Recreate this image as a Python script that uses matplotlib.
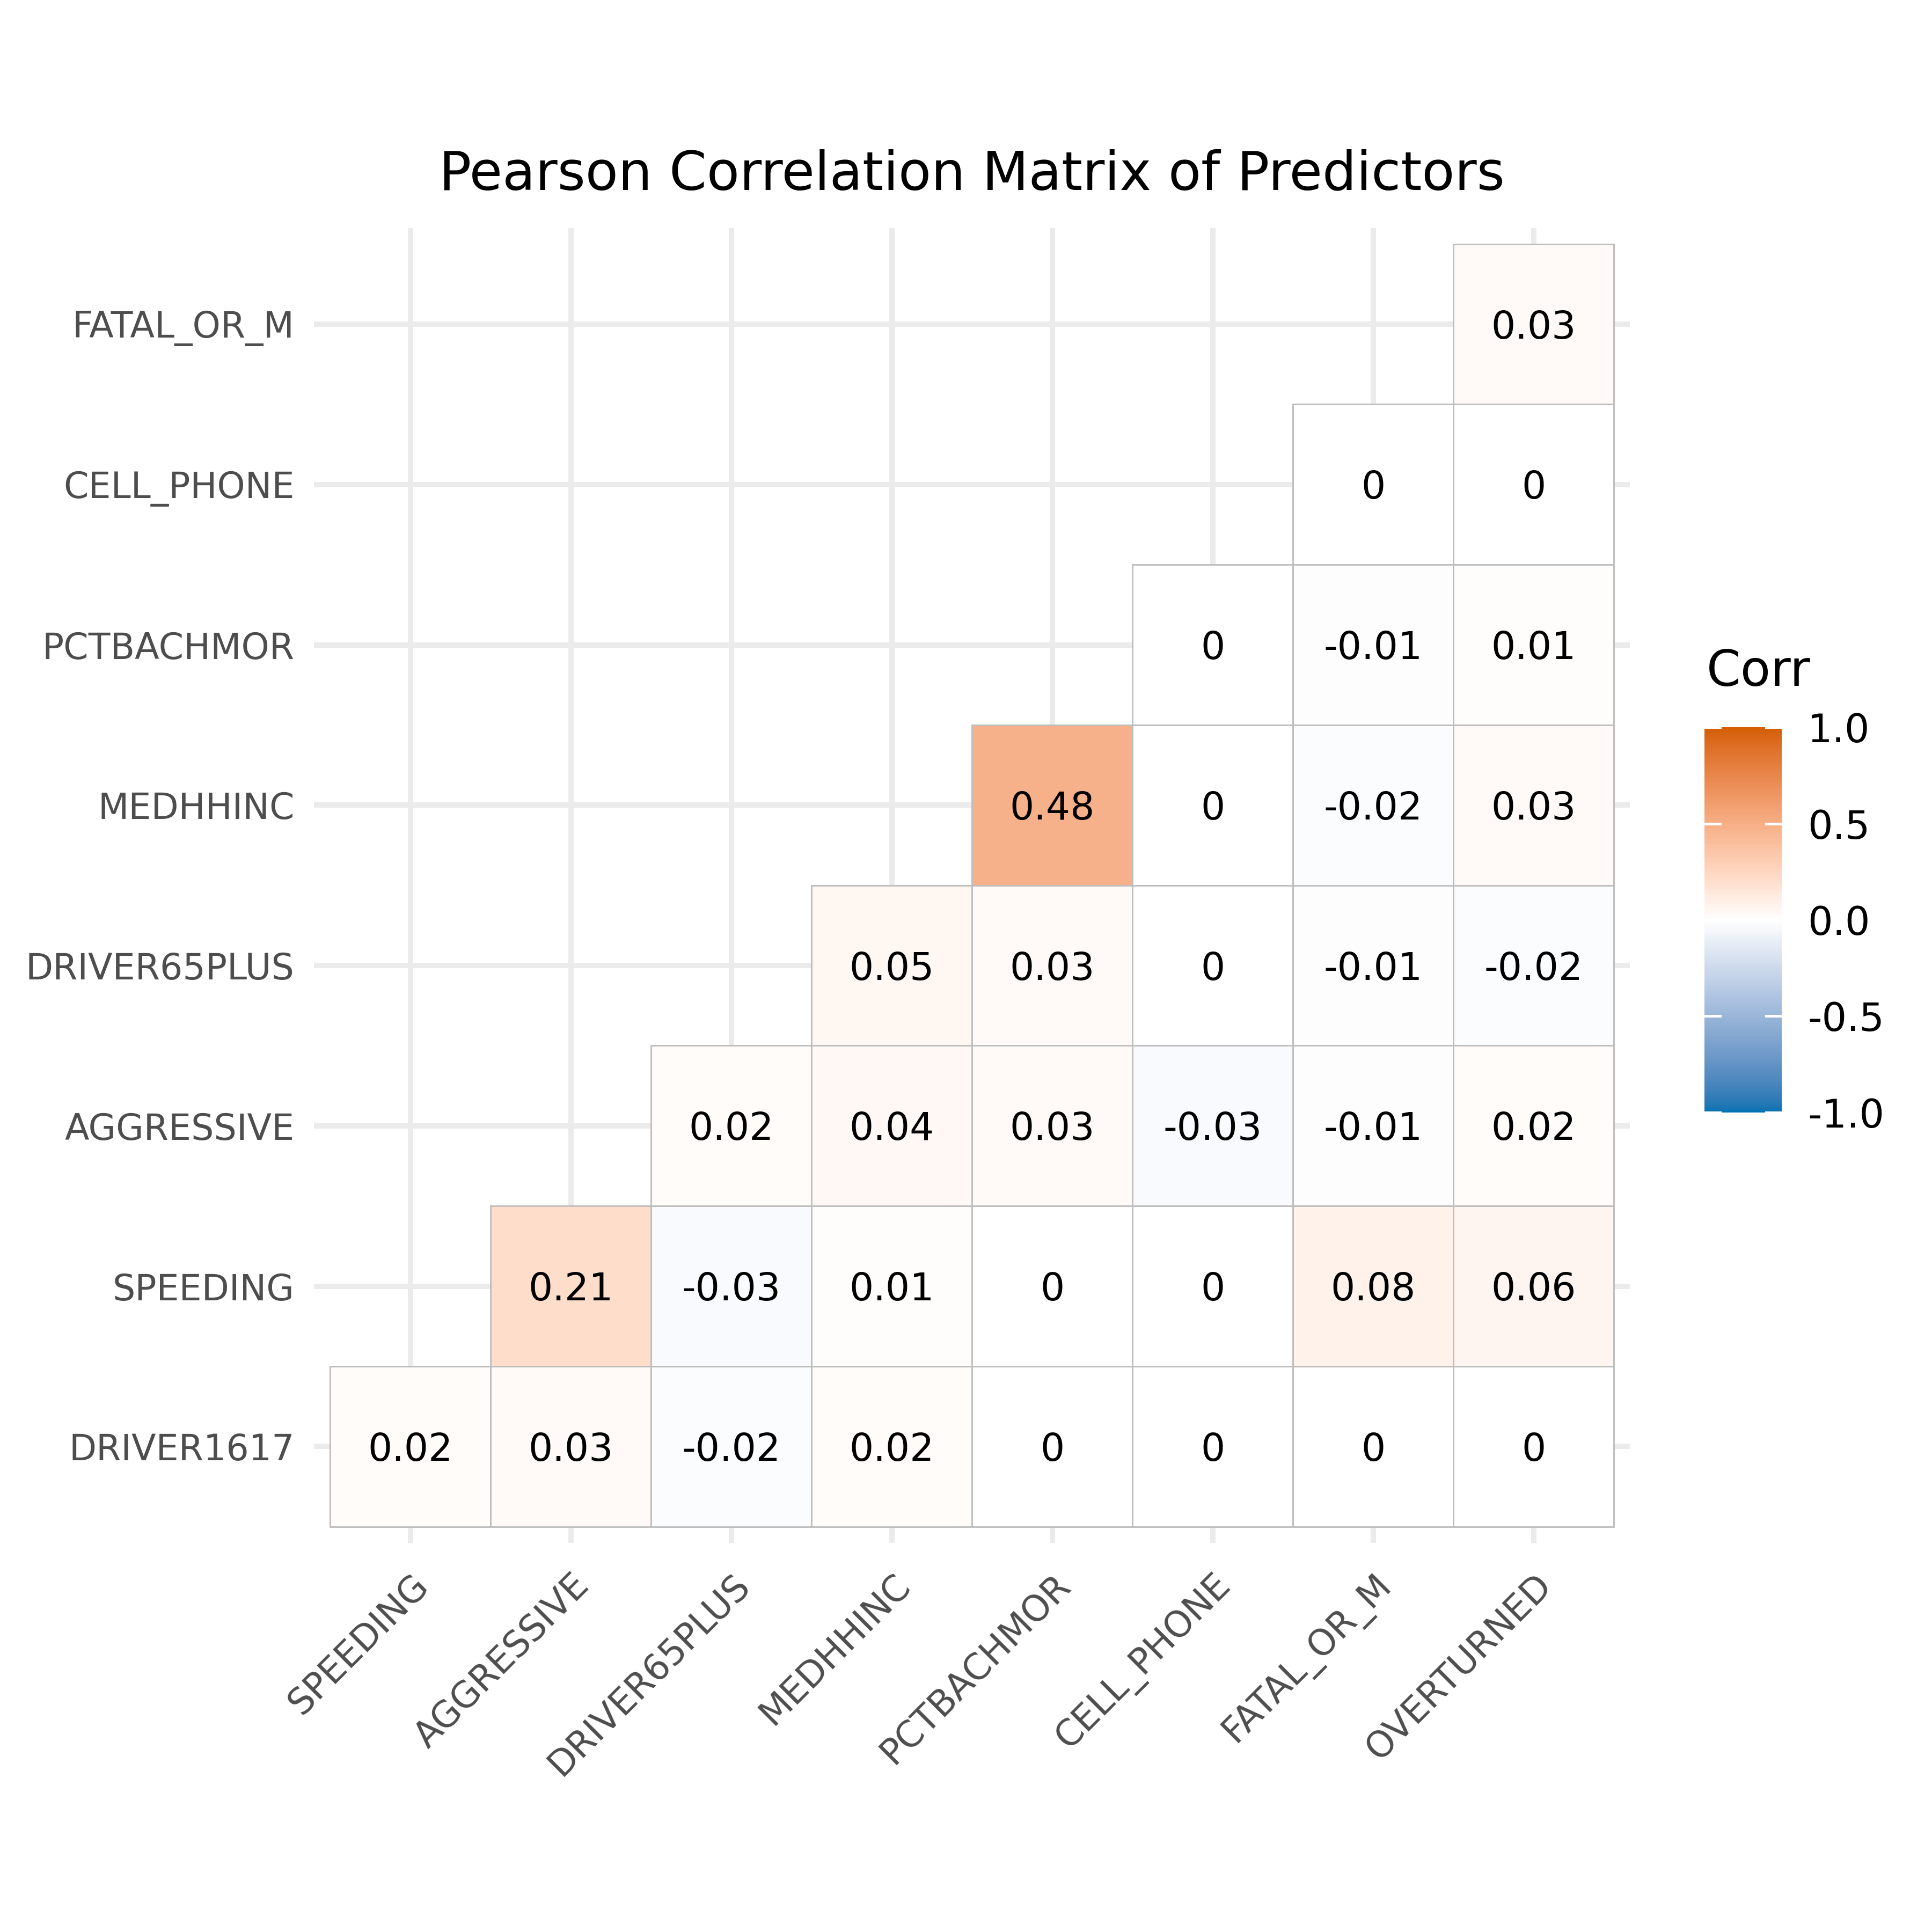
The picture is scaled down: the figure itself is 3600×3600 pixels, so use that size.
import numpy as np
import matplotlib
matplotlib.use("Agg")
import matplotlib.pyplot as plt
import matplotlib.colors as mcolors
import matplotlib.transforms as mtransforms

# --- data (lower triangle of the correlation matrix, None = not shown) ---
x_labels = ["SPEEDING", "AGGRESSIVE", "DRIVER65PLUS", "MEDHHINC",
            "PCTBACHMOR", "CELL_PHONE", "FATAL_OR_M", "OVERTURNED"]
y_labels = ["DRIVER1617", "SPEEDING", "AGGRESSIVE", "DRIVER65PLUS",
            "MEDHHINC", "PCTBACHMOR", "CELL_PHONE", "FATAL_OR_M"]

row_driver1617 = [0.02, 0.03, -0.02, 0.02, 0, 0, 0, 0]
row_speeding = [None, 0.21, -0.03, 0.01, 0, 0, 0.08, 0.06]
row_aggressive = [None, None, 0.02, 0.04, 0.03, -0.03, -0.01, 0.02]
row_driver65plus = [None, None, None, 0.05, 0.03, 0, -0.01, -0.02]
row_medhhinc = [None, None, None, None, 0.48, 0, -0.02, 0.03]
row_pctbachmor = [None, None, None, None, None, 0, -0.01, 0.01]
row_cell_phone = [None, None, None, None, None, None, 0, 0]
row_fatal_or_m = [None, None, None, None, None, None, None, 0.03]

cbar_ticks = [-1.0, -0.5, 0.0, 0.5, 1.0]

rows = [row_driver1617, row_speeding, row_aggressive, row_driver65plus,
        row_medhhinc, row_pctbachmor, row_cell_phone, row_fatal_or_m]


# --- colour ramp interpolated in CIELAB like ggplot's gradient2 ---
WHITE_REF = np.array([0.95047, 1.0, 1.08883])
M_RGB2XYZ = np.array([[0.4124564, 0.3575761, 0.1804375],
                      [0.2126729, 0.7151522, 0.0721750],
                      [0.0193339, 0.1191920, 0.9503041]])


def to_lab(hexc):
    rgb = np.array(mcolors.to_rgb(hexc))
    lin = np.where(rgb <= 0.04045, rgb / 12.92, ((rgb + 0.055) / 1.055) ** 2.4)
    xyz = M_RGB2XYZ @ lin / WHITE_REF
    d = 6 / 29
    f = np.where(xyz > d ** 3, np.cbrt(xyz), xyz / (3 * d ** 2) + 4 / 29)
    return np.array([116 * f[1] - 16, 500 * (f[0] - f[1]), 200 * (f[1] - f[2])])


def from_lab(lab):
    L, a, b = lab
    fy = (L + 16) / 116
    fx = fy + a / 500
    fz = fy - b / 200
    d = 6 / 29
    f = np.array([fx, fy, fz])
    xyz = np.where(f > d, f ** 3, 3 * d ** 2 * (f - 4 / 29)) * WHITE_REF
    lin = np.clip(np.linalg.inv(M_RGB2XYZ) @ xyz, 0, 1)
    rgb = np.where(lin <= 0.0031308, 12.92 * lin, 1.055 * lin ** (1 / 2.4) - 0.055)
    return np.clip(rgb, 0, 1)


lab_low, lab_mid, lab_high = to_lab("#0072B2"), to_lab("#FFFFFF"), to_lab("#D55E00")
ramp = []
for t in np.linspace(-1, 1, 401):
    if t < 0:
        ramp.append(from_lab(lab_mid + (lab_low - lab_mid) * (-t)))
    else:
        ramp.append(from_lab(lab_mid + (lab_high - lab_mid) * t))
cmap = mcolors.ListedColormap(ramp)
norm = mcolors.Normalize(vmin=-1, vmax=1)


# --- figure ---
fig = plt.figure(figsize=(6, 6), dpi=600)
ax = fig.add_axes([0.1626, 0.2015, 0.6811, 0.6805])

n = len(x_labels)
for k in range(n):
    ax.axvline(k, color="#EBEBEB", lw=1.2, zorder=0)
    ax.axhline(k, color="#EBEBEB", lw=1.2, zorder=0)

# labels sit a hair lower than matplotlib's box centre
lab_trans = ax.transData + mtransforms.ScaledTranslation(0, -0.85 / 72, fig.dpi_scale_trans)

# tiles, one row at a time, only where a value exists
for i, r in enumerate(rows):
    cols = [j for j, v in enumerate(r) if v is not None]
    vals = [r[j] for j in cols]
    ax.bar(cols, 1.0, bottom=i - 0.5, width=1.0, color=cmap(norm(vals)),
           edgecolor="#BEBEBE", linewidth=0.35, zorder=1)
    for j, v in zip(cols, vals):
        ax.text(j, i, f"{v:g}", ha="center", va="center", fontsize=8.54,
                color="black", zorder=2, transform=lab_trans)

ax.set_xlim(-0.6, n - 0.4)
ax.set_ylim(-0.6, n - 0.4)
ax.set_xticks(range(n))
ax.set_yticks(range(n))
ax.set_xticklabels(x_labels, rotation=45, ha="right", va="top",
                   rotation_mode="anchor", fontsize=8.0, color="#4D4D4D")
ax.set_yticklabels(y_labels, fontsize=8.0, color="#4D4D4D")
ax.tick_params(length=0)
ax.tick_params(axis="y", pad=4.4)
ax.tick_params(axis="x", pad=5.5)
for s in ax.spines.values():
    s.set_visible(False)

fig.text(0.503, 0.9094, "Pearson Correlation Matrix of Predictors",
         ha="center", va="center", fontsize=12, color="black")

# --- colour bar legend ---
cax = fig.add_axes([0.8822, 0.4242, 0.04, 0.1994])
sm = plt.cm.ScalarMappable(norm=norm, cmap=cmap)
cb = fig.colorbar(sm, cax=cax, ticks=cbar_ticks)
cb.outline.set_visible(False)
cb.ax.set_yticklabels([f"{t:.1f}" for t in cbar_ticks], fontsize=8.8, color="black")
cb.ax.tick_params(length=0, pad=5.8)
for t in cbar_ticks:
    cax.plot([0, 0.2], [t, t], color="white", lw=0.6, transform=cax.get_yaxis_transform())
    cax.plot([0.8, 1.0], [t, t], color="white", lw=0.6, transform=cax.get_yaxis_transform())
fig.text(0.8833, 0.6397, "Corr", ha="left", va="bottom", fontsize=11, color="black")

fig.savefig("out.png", dpi=600, facecolor="white")
